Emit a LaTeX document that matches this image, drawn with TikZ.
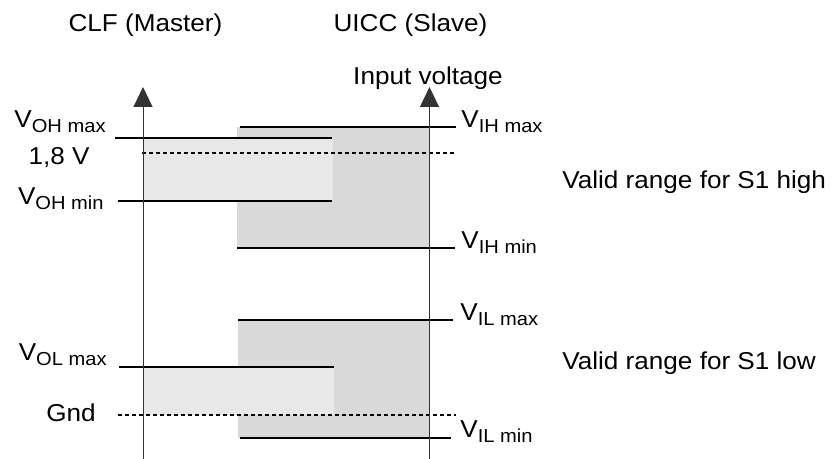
\documentclass[tikz,border=0pt]{standalone}
\usepackage{fontspec}
\setmainfont{Liberation Sans}[FakeStretch=1.07]
\usepackage{xcolor}
\usetikzlibrary{arrows.meta}

\definecolor{txgray}{RGB}{232,232,232}
\definecolor{rxgray}{RGB}{217,217,217}
\newcommand{\vlev}[1]{V\raisebox{-2.5pt}{\fontsize{9.4}{11}\selectfont #1}}

\tikzset{
	lbl/.style={inner sep=0pt, font=\fontsize{12.2}{14.6}\selectfont},
	level/.style={line width=1pt},
	refline/.style={line width=0.6pt, dash pattern=on 2pt off 1.5pt},
	axis/.style={line width=0.5pt, black!80, -{Triangle[width=9.5pt,length=10pt]}},
}

\begin{document}
\begin{tikzpicture}[x=0.5pt, y=-0.5pt]
	\useasboundingbox (0,0) rectangle (832,459);
	% ranges
	\fill[rxgray] (237,127) rectangle (429.5,248);
	\fill[rxgray] (238,320) rectangle (429.5,438);
	\fill[txgray] (143,138) rectangle (333,201);
	\fill[txgray] (143,367) rectangle (334,415);
	% levels
	\foreach \n/\xa/\xb/\y in {ohmax/115/332/138, ohmin/118/332/201, olmax/119/334/367,
		ihmax/240/456/127, ihmin/237/455/248, ilmax/238/453/320, ilmin/240/451/438}
	{
		\coordinate (\n a) at (\xa,\y);
		\coordinate (\n b) at (\xb,\y);
		\draw[level] (\n a) -- (\n b);
	}
	\foreach \n/\xa/\xb/\y in {vcc/142/456/153, gnd/118/456/415}
	{
		\coordinate (\n a) at (\xa,\y);
		\coordinate (\n b) at (\xb,\y);
		\draw[refline] (\n a) -- (\n b);
	}
	% axes
	\coordinate (clf0) at (143,459);
	\coordinate (clf1) at (143,87);
	\coordinate (uicc0) at (429.5,459);
	\coordinate (uicc1) at (429.5,87);
	\draw[axis] (clf0) -> (clf1);
	\draw[axis] (uicc0) -> (uicc1);
	% labels
	\node[lbl, anchor=base] (clf) at (145.5,32) {CLF (Master)};
	\node[lbl, anchor=base] (uicc) at (410.5,32) {UICC (Slave)};
	\node[lbl, anchor=base] (input) at (428,85) {Input voltage};
	\node[lbl, anchor=base east] (ohmax) at (106,128) {\vlev{OH max}};
	\node[lbl, anchor=base east] (vcc) at (90,165) {1,8 V};
	\node[lbl, anchor=base east] (ohmin) at (104,205) {\vlev{OH min}};
	\node[lbl, anchor=base east] (olmax) at (107,361) {\vlev{OL max}};
	\node[lbl, anchor=base east] (gnd) at (96,422) {Gnd};
	\node[lbl, anchor=base west] (ihmax) at (461,128) {\vlev{IH max}};
	\node[lbl, anchor=base west] (ihmin) at (461,249) {\vlev{IH min}};
	\node[lbl, anchor=base west] (ilmax) at (460,321) {\vlev{IL max}};
	\node[lbl, anchor=base west] (ilmin) at (460,438) {\vlev{IL min}};
	\node[lbl, anchor=base west] (high) at (562,189) {Valid range for S1 high};
	\node[lbl, anchor=base west] (low) at (562,370) {Valid range for S1 low};
\end{tikzpicture}
\end{document}
